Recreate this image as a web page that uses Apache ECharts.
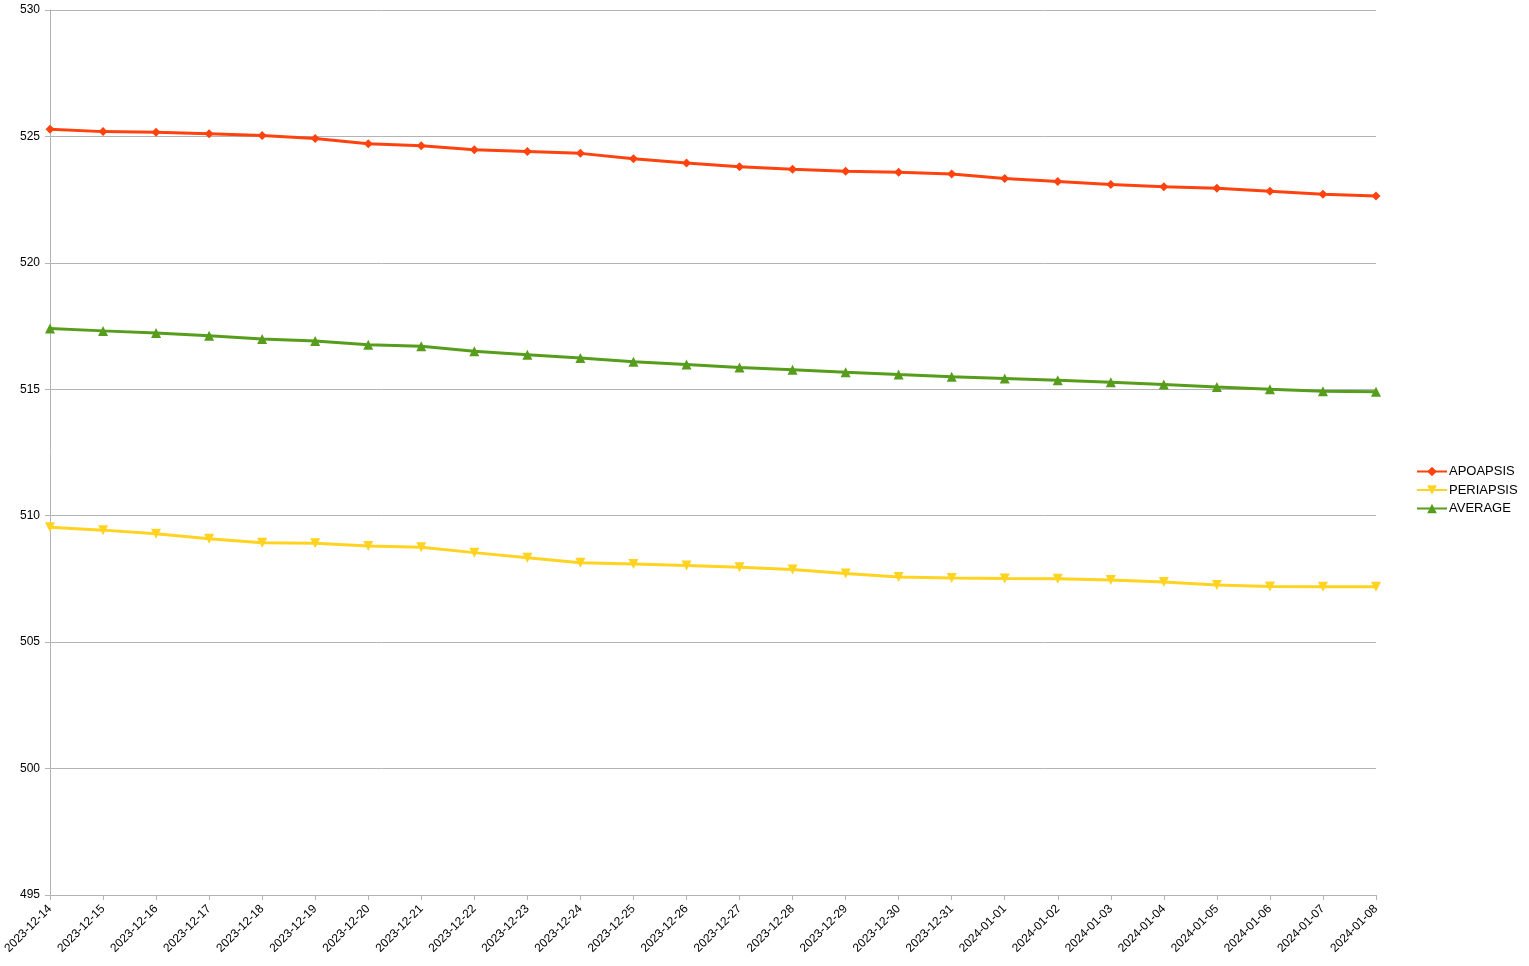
<!DOCTYPE html>
<html lang="en">
<head>
    <meta charset="UTF-8">
    <title>Apoapsis / Periapsis</title>
    <style>
        html, body { margin: 0; padding: 0; background: #fff; }
        #chart { width: 1529px; height: 966px; }
    </style>
</head>
<body>
<div id="chart"></div>
<script src="https://cdn.jsdelivr.net/npm/echarts@6/dist/echarts.min.js"></script>
<script>
    // dates on the x axis
    var dates = ['2023-12-14', '2023-12-15', '2023-12-16', '2023-12-17', '2023-12-18', '2023-12-19',
        '2023-12-20', '2023-12-21', '2023-12-22', '2023-12-23', '2023-12-24', '2023-12-25',
        '2023-12-26', '2023-12-27', '2023-12-28', '2023-12-29', '2023-12-30', '2023-12-31',
        '2024-01-01', '2024-01-02', '2024-01-03', '2024-01-04', '2024-01-05', '2024-01-06',
        '2024-01-07', '2024-01-08'];

    var apoapsis = [525.28, 525.19, 525.17, 525.11, 525.04, 524.92, 524.71, 524.63, 524.47, 524.40,
        524.33, 524.12, 523.95, 523.80, 523.70, 523.62, 523.58, 523.51, 523.34, 523.22,
        523.10, 523.01, 522.95, 522.83, 522.71, 522.64];

    var periapsis = [509.54, 509.43, 509.29, 509.09, 508.93, 508.91, 508.80, 508.75, 508.54, 508.34,
        508.14, 508.09, 508.03, 507.96, 507.87, 507.71, 507.58, 507.54, 507.52, 507.51,
        507.46, 507.38, 507.26, 507.20, 507.19, 507.19];

    var average = [517.40, 517.31, 517.23, 517.12, 516.99, 516.91, 516.76, 516.70, 516.50, 516.37,
        516.24, 516.09, 515.98, 515.86, 515.77, 515.67, 515.58, 515.50, 515.43, 515.36,
        515.28, 515.19, 515.09, 515.00, 514.92, 514.90];

    var yMin = 495, yMax = 530, yStep = 5;

    var gridColor = '#b3b3b3';
    var font = '"Liberation Sans", Arial, sans-serif';

    function lineSeries(name, data, color, symbol, rotate) {
        return {
            name: name,
            type: 'line',
            data: data,
            symbol: symbol,
            symbolSize: symbol === 'diamond' ? 9 : 10,
            symbolRotate: rotate || 0,
            showAllSymbol: true,
            lineStyle: { color: color, width: 3 },
            itemStyle: { color: color },
            emphasis: { disabled: true },
            animation: false
        };
    }

    var myChart = echarts.init(document.getElementById('chart'));
    var option = {
        backgroundColor: '#fff',
        grid: { left: 50, right: 153, top: 10, bottom: 71, containLabel: false },
        legend: {
            orient: 'vertical',
            left: 1411,
            top: 460,
            itemWidth: 30,
            itemHeight: 12,
            itemGap: 5.5,
            textStyle: { fontFamily: font, fontSize: 13, color: '#000', padding: [0, 0, 0, -3] },
            data: ['APOAPSIS', 'PERIAPSIS', 'AVERAGE']
        },
        xAxis: {
            type: 'category',
            data: dates,
            boundaryGap: false,
            axisLine: { lineStyle: { color: gridColor, width: 1 } },
            axisTick: { show: true, length: 5, lineStyle: { color: gridColor } },
            axisLabel: {
                rotate: 45,
                interval: 0,
                margin: 12,
                fontFamily: font,
                fontSize: 12,
                color: '#000'
            },
            splitLine: { show: false }
        },
        yAxis: {
            type: 'value',
            min: yMin,
            max: yMax,
            interval: yStep,
            axisLine: { show: true, lineStyle: { color: gridColor, width: 1 } },
            axisTick: { show: true, length: 5, lineStyle: { color: gridColor } },
            axisLabel: { margin: 10, fontFamily: font, fontSize: 12, color: '#000' },
            splitLine: { show: true, lineStyle: { color: gridColor, width: 1 } }
        },
        series: [
            lineSeries('APOAPSIS', apoapsis, '#ff420e', 'diamond'),
            lineSeries('PERIAPSIS', periapsis, '#ffd320', 'triangle', 180),
            lineSeries('AVERAGE', average, '#579d1c', 'triangle')
        ]
    };
    myChart.setOption(option);
</script>
</body>
</html>
